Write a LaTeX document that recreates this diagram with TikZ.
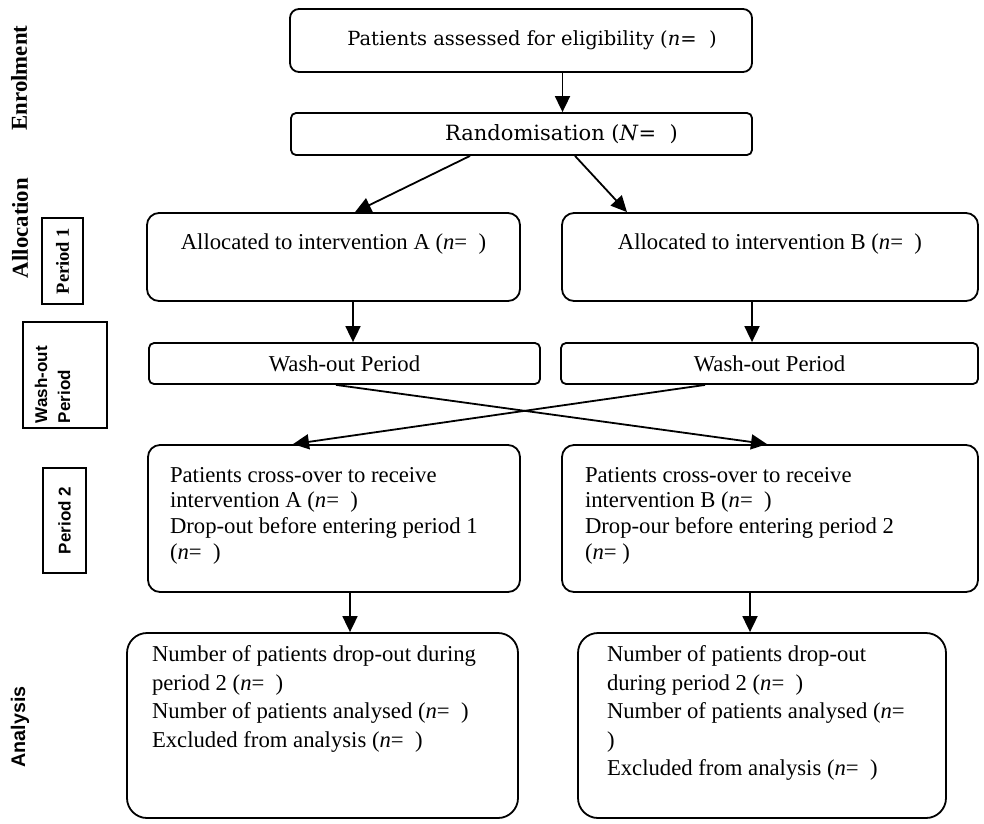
\documentclass[tikz,border=0pt]{standalone}
\usepackage{fontspec}
\setmainfont{Liberation Serif}
\newfontfamily\topfont{DejaVu Serif}
\newfontfamily\lsans{Liberation Sans}
\usetikzlibrary{arrows.meta}
\newcommand\mybt[4]{\parbox[c][#1][t]{#2}{\vspace*{#3}#4}}
\begin{document}
\begin{tikzpicture}[x=1pt,y=-1pt,
  box/.style={draw, line width=1.8pt, rounded corners=12pt, inner sep=0pt},
  arr/.style={line width=1.8pt, -{Triangle[length=16pt,width=15pt]}},
  body/.style={font=\fontsize{22.7}{25.7}\selectfont},
  anatext/.style={font=\fontsize{22.7}{28.4}\selectfont},
  toptext/.style={font=\topfont\fontsize{20}{24}\selectfont},
  sidelab/.style={rotate=90, inner sep=0pt, font=\bfseries\fontsize{22.8}{26}\selectfont},
  sidebox/.style={draw, line width=1.8pt, rotate=90, inner sep=0pt},
]
\useasboundingbox (0,0) rectangle (984,823);

% main flow
\node[box, toptext, font=\topfont\fontsize{19.5}{24}\selectfont, rounded corners=9pt, minimum width=462pt, minimum height=63pt] (elig) at (521,40.5)
  {\hspace*{22pt}Patients assessed for eligibility (\textit{n}=~~)};
\node[box, toptext, font=\topfont\fontsize{21}{24}\selectfont, rounded corners=5pt, minimum width=461pt, minimum height=42pt] (rand) at (521.5,134)
  {\hspace*{80pt}Randomisation (\textit{N}=~~)};

\node[box, body] (allocA) at (333.5,257)
  {\mybt{88pt}{373pt}{19pt}{\centering\strut Allocated to intervention A (\textit{n}=~~)}};
\node[box, body] (allocB) at (770,257)
  {\mybt{88pt}{416pt}{19pt}{\centering\strut Allocated to intervention B (\textit{n}=~~)}};

\node[box, body, rounded corners=5pt, minimum width=391pt, minimum height=41pt] (washA) at (344.5,363.5) {Wash-out Period};
\node[box, body, rounded corners=5pt, minimum width=417pt, minimum height=41pt] (washB) at (769.5,363.5) {Wash-out Period};

\node[box, body, inner xsep=22pt] (crossA) at (334,518.5)
  {\mybt{147pt}{328pt}{19pt}{\raggedright\strut Patients cross-over to receive\\ intervention A (\textit{n}=~~)\\ Drop-out before entering period 1\\ (\textit{n}=~~)}};
\node[box, body, inner xsep=23pt] (crossB) at (770,518.5)
  {\mybt{147pt}{370pt}{19pt}{\raggedright\strut Patients cross-over to receive\\ intervention B (\textit{n}=~~)\\ Drop-our before entering period 2\\ (\textit{n}=~)}};

\node[box, anatext, rounded corners=20pt, inner xsep=25pt] (anaA) at (322.5,725.5)
  {\mybt{185pt}{341pt}{9pt}{\raggedright\strut Number of patients drop-out during\\ period 2 (\textit{n}=~~)\\ Number of patients analysed (\textit{n}=~~)\\ Excluded from analysis (\textit{n}=~~)}};
\node[box, anatext, rounded corners=20pt, inner xsep=29pt] (anaB) at (762,725.5)
  {\mybt{185pt}{310pt}{9pt}{\raggedright\strut Number of patients drop-out\\ during period 2 (\textit{n}=~~)\\ Number of patients analysed (\textit{n}=\\ )\\ Excluded from analysis (\textit{n}=~~)}};

% side labels
\node[sidelab] (enrol) at (19,78) {Enrolment};
\node[sidelab] (alloc) at (20,228) {Allocation};
\node[sidelab, font=\lsans\bfseries\fontsize{19.7}{22}\selectfont] (anal) at (20,727) {Analysis};
\node[sidebox, minimum width=86pt, minimum height=41pt, font=\bfseries\fontsize{18.5}{20}\selectfont] (p1) at (62.5,261) {Period 1};
\node[sidebox, minimum width=105pt, minimum height=43pt, font=\lsans\bfseries\fontsize{17}{19}\selectfont] (p2) at (64.5,520.5) {Period 2};
\node[sidebox, font=\lsans\bfseries\fontsize{17}{23}\selectfont] (wlab) at (65,375)
  {\mybt{84pt}{106pt}{8pt}{\raggedright\leftskip=5pt\strut Wash-out\\Period}};

% connectors
\draw[arr] ([xshift=41.5pt]elig.south) -- ([xshift=41pt]rand.north);
\draw[arr] ([xshift=-51.5pt]rand.south) -- ([xshift=21.5pt]allocA.north);
\draw[arr] ([xshift=53.5pt]rand.south) -- ([xshift=-143pt]allocB.north);
\draw[arr] ([xshift=19.5pt]allocA.south) -- ([xshift=8.5pt]washA.north);
\draw[arr] ([xshift=-18pt]allocB.south) -- ([xshift=-17.5pt]washB.north);
\draw[arr] ([xshift=-8.5pt]washA.south) -- ([xshift=-3pt]crossB.north);
\draw[arr] ([xshift=-64.5pt]washB.south) -- ([xshift=-41pt]crossA.north);
\draw[arr] ([xshift=16pt]crossA.south) -- ([xshift=27.5pt]anaA.north);
\draw[arr] ([xshift=-20pt]crossB.south) -- ([xshift=-12pt]anaB.north);
\end{tikzpicture}
\end{document}
